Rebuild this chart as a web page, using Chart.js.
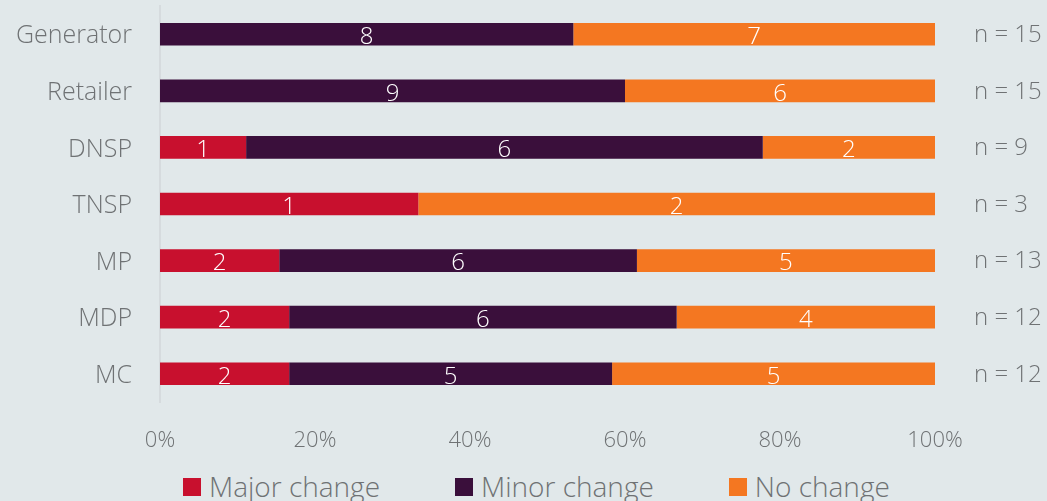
<!DOCTYPE html>
<html>
<head>
<meta charset="utf-8">
<script src="https://cdn.jsdelivr.net/npm/chart.js@4"></script>
<style>
  html, body { margin: 0; padding: 0; background: #e1e8ea; overflow: hidden; }
  #wrap { width: 1047px; height: 462px; position: relative; }
  #legend {
    position: absolute; left: 183px; top: 470px;
    display: flex; align-items: center;
    font-family: 'Open Sans', 'Noto Sans', sans-serif; font-weight: 300;
    font-size: 28px; line-height: 32px; color: #6f7274; white-space: nowrap;
  }
  #legend .item { display: flex; align-items: center; margin-right: 75px; }
  #legend .box { width: 18px; height: 18px; margin-right: 8px; margin-top: 1px; }
</style>
</head>
<body>
<div id="wrap"><canvas id="stackChart"></canvas></div>
<div id="legend"></div>
<script>
const categories = ["Generator", "Retailer", "DNSP", "TNSP", "MP", "MDP", "MC"];
const majorChange = [0, 0, 1, 1, 2, 2, 2];
const minorChange = [8, 9, 6, 0, 6, 6, 5];
const noChange = [7, 6, 2, 2, 5, 4, 5];
const totals = [15, 15, 9, 3, 13, 12, 12];
const nLabels = totals.map(n => "n = " + n);
const xTicks = ["0%", "20%", "40%", "60%", "80%", "100%"];

const greyText = "#6f7274";
const fontFamily = "'Open Sans', 'Noto Sans', sans-serif";

function toPercent(counts) {
    return counts.map((c, i) => c / totals[i] * 100);
}

// white count labels in the middle of each segment
const segmentLabels = {
    id: "segmentLabels",
    afterDatasetsDraw(chart) {
        const ctx = chart.ctx;
        ctx.save();
        ctx.fillStyle = "#ffffff";
        ctx.font = "300 24px " + fontFamily;
        ctx.textAlign = "center";
        ctx.textBaseline = "middle";
        chart.data.datasets.forEach((ds, di) => {
            const meta = chart.getDatasetMeta(di);
            meta.data.forEach((bar, i) => {
                const count = ds.counts[i];
                if (!count) return;
                const cx = (bar.x + bar.base) / 2;
                ctx.fillText(String(count), cx, bar.y + 3);
            });
        });
        ctx.restore();
    }
};

// tick padding also pads the top/bottom of vertical axes, undo that
function fixVertical(width) {
    return axis => {
        axis.width = width;
        axis.paddingTop = 0;
        axis.paddingBottom = 0;
    };
}

const ctx = document.getElementById("stackChart").getContext("2d");
const chart = new Chart(ctx, {
    type: "bar",
    data: {
        labels: categories,
        datasets: [
            { label: "Major change", counts: majorChange, data: toPercent(majorChange), backgroundColor: "#c8102e" },
            { label: "Minor change", counts: minorChange, data: toPercent(minorChange), backgroundColor: "#3a0f3b" },
            { label: "No change", counts: noChange, data: toPercent(noChange), backgroundColor: "#f47721" }
        ]
    },
    options: {
        indexAxis: "y",
        responsive: true,
        maintainAspectRatio: false,
        animation: false,
        barPercentage: 0.8,
        categoryPercentage: 0.5,
        layout: { padding: { top: 6, right: 0, left: 0, bottom: 0 } },
        scales: {
            x: {
                stacked: true,
                min: 0,
                max: 100,
                grid: { display: false },
                border: { display: false },
                afterFit: axis => { axis.height = 60; },
                ticks: {
                    stepSize: 20,
                    padding: 18,
                    color: greyText,
                    font: { family: fontFamily, size: 22, weight: 300 },
                    callback: (v) => xTicks[v / 20]
                }
            },
            y: {
                stacked: true,
                grid: { display: false },
                border: { display: true, color: "#d6dbde", width: 2 },
                afterFit: fixVertical(160),
                ticks: {
                    padding: 20,
                    labelOffset: 2,
                    color: greyText,
                    font: { family: fontFamily, size: 25, weight: 300 }
                }
            },
            y2: {
                type: "category",
                labels: nLabels,
                position: "right",
                grid: { display: false },
                border: { display: false },
                afterFit: fixVertical(112),
                ticks: {
                    padding: 31,
                    labelOffset: 1,
                    color: greyText,
                    font: { family: fontFamily, size: 24, weight: 300 }
                }
            }
        },
        plugins: {
            tooltip: { enabled: false },
            legend: { display: false }
        }
    },
    plugins: [segmentLabels]
});

// legend as html under the canvas
const legendEl = document.getElementById("legend");
chart.data.datasets.forEach(ds => {
    const item = document.createElement("div");
    item.className = "item";
    const box = document.createElement("span");
    box.className = "box";
    box.style.background = ds.backgroundColor;
    const txt = document.createElement("span");
    txt.textContent = ds.label;
    item.appendChild(box);
    item.appendChild(txt);
    legendEl.appendChild(item);
});
</script>
</body>
</html>
